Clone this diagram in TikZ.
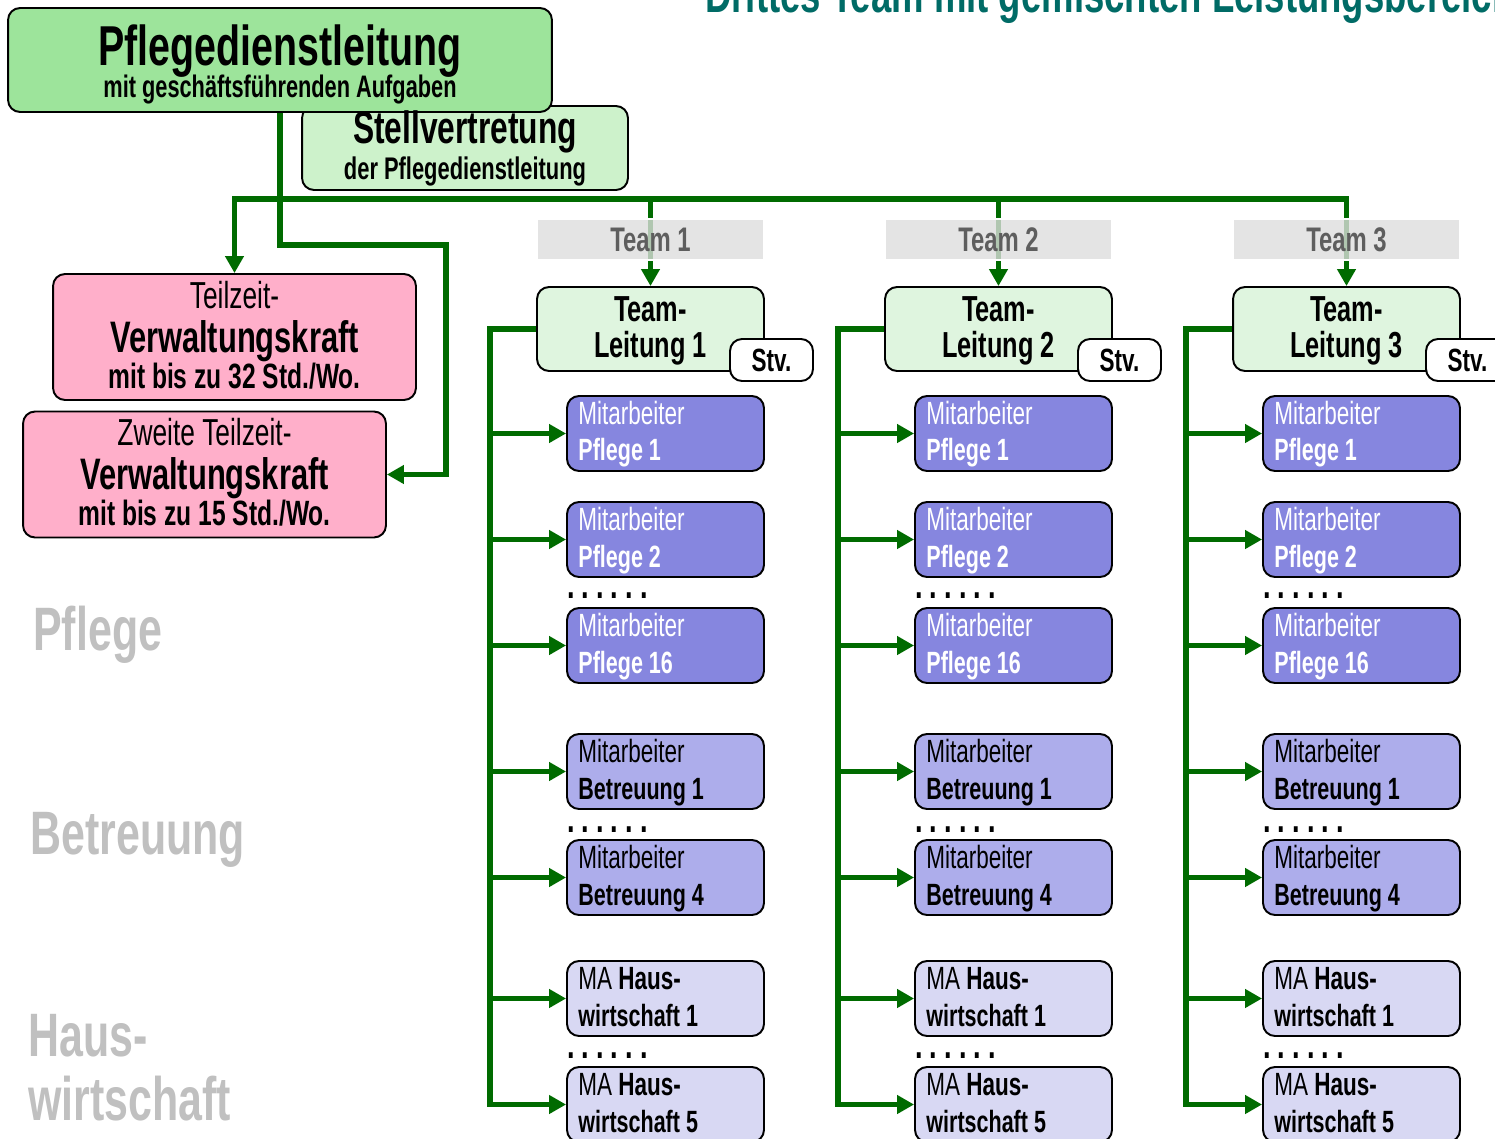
\documentclass[tikz,border=0pt]{standalone}
\usepackage{fontspec}
\setmainfont{Liberation Sans}[FakeStretch=0.7]
\usetikzlibrary{arrows.meta}
\definecolor{PdlGreen}{HTML}{9DE49B}
\definecolor{StellGreen}{HTML}{CDF2CB}
\definecolor{LeadGreen}{HTML}{DFF5DF}
\definecolor{VerwPink}{HTML}{FFAFCA}
\definecolor{PflegeBlue}{HTML}{8686DF}
\definecolor{BetrBlue}{HTML}{ADADEB}
\definecolor{HausBlue}{HTML}{D8D8F3}
\definecolor{LinkGreen}{HTML}{006B00}
\definecolor{SideGray}{HTML}{C0C0C0}
\definecolor{LabelGray}{HTML}{DDDDDD}
\definecolor{LabelText}{HTML}{5E5E5E}
\definecolor{TitleTeal}{HTML}{006B66}
\tikzset{
    box/.style={rectangle, draw, line width=1.1pt, rounded corners=0.24cm, inner sep=0},
    pdlbox/.style={box, fill=PdlGreen, minimum width=10.88cm, minimum height=2.08cm},
    stellbox/.style={box, fill=StellGreen, minimum width=6.52cm, minimum height=1.68cm},
    verwbox/.style={box, fill=VerwPink, minimum width=7.26cm, minimum height=2.52cm},
    leadbox/.style={box, fill=LeadGreen, minimum width=4.54cm, minimum height=1.68cm},
    stvbox/.style={box, fill=white, minimum width=1.66cm, minimum height=0.84cm,
                font=\fontsize{18.3}{20}\selectfont\bfseries},
    pflegebox/.style={box, fill=PflegeBlue, minimum width=3.94cm, minimum height=1.5cm},
    betrbox/.style={box, fill=BetrBlue, minimum width=3.94cm, minimum height=1.5cm},
    hausbox/.style={box, fill=HausBlue, minimum width=3.94cm, minimum height=1.5cm},
    teambox/.style={rectangle, draw=white, line width=1.2pt, fill=LabelGray,
                fill opacity=0.8, text opacity=1, text=LabelText, inner sep=0,
                minimum width=4.54cm, minimum height=0.82cm,
                font=\fontsize{19.4}{21}\selectfont\bfseries},
    link/.style={draw=LinkGreen, line width=3pt},
    arrow/.style={link, -{Triangle[length=0.34cm, width=0.36cm]}},
    %
    pdltopstyle/.style={anchor=base, inner sep=0, yshift=-.1cm, font=\fontsize{32}{34}\selectfont\bfseries},
    pdllowstyle/.style={anchor=base, inner sep=0, yshift=-.75cm, font=\fontsize{17.7}{19}\selectfont\bfseries},
    stelltopstyle/.style={anchor=base, inner sep=0, yshift=.1cm, font=\fontsize{25.8}{28}\selectfont\bfseries},
    stelllowstyle/.style={anchor=base, inner sep=0, yshift=-.64cm, font=\fontsize{17.8}{19}\selectfont\bfseries},
    %
    verwtopstyle/.style={anchor=base, inner sep=0, yshift=.58cm, font=\fontsize{21.4}{23}\selectfont},
    verwmidstyle/.style={anchor=base, inner sep=0, yshift=-.3cm, font=\fontsize{25.1}{27}\selectfont\bfseries},
    verwlowstyle/.style={anchor=base, inner sep=0, yshift=-1.03cm, font=\fontsize{20}{22}\selectfont\bfseries},
    %
    leadupperstyle/.style={anchor=base, inner sep=0, yshift=.146cm, font=\fontsize{20.6}{22}\selectfont\bfseries},
    leadlowerstyle/.style={anchor=base, inner sep=0, yshift=-.58cm, font=\fontsize{20.6}{22}\selectfont\bfseries},
    upperstyle/.style={anchor=base west, inner sep=0, xshift=.24cm, yshift=.18cm, font=\fontsize{18.3}{20}\selectfont},
    lowerstyle/.style={anchor=base west, inner sep=0, xshift=.24cm, yshift=-.55cm, font=\fontsize{17.5}{19}\selectfont\bfseries},
    dotstyle/.style={anchor=base west, inner sep=0, text height=4pt, text depth=0pt,
                font=\fontsize{22}{24}\selectfont\bfseries},
    sidestyle/.style={anchor=base west, inner sep=0, text=SideGray, font=\fontsize{34.9}{38}\selectfont\bfseries},
    titlestyle/.style={anchor=base west, inner sep=0, text=TitleTeal, font=\fontsize{29.7}{32}\selectfont\bfseries},
}
\newcommand{\verwLayer}[4]{%
    \node[verwtopstyle] (#1-t) at (#1.center) {#2};
    \node[verwmidstyle] (#1-m) at (#1.center) {#3};
    \node[verwlowstyle] (#1-b) at (#1.center) {#4};
}
\newcommand{\leadLayer}[2]{%
    \node[leadupperstyle] (#1-u) at (#1.center) {Team-};
    \node[leadlowerstyle] (#1-l) at (#1.center) {#2};
}
\newcommand{\workerLayer}[4][black]{%
    \node[upperstyle, text=#1] (#2-u) at (#2.west) {#3};
    \node[lowerstyle, text=#1] (#2-l) at (#2.west) {#4};
}
\newcommand{\dotRow}{.\kern4pt.\kern4pt.\kern4pt.\kern4pt.\kern4pt.}

\begin{document}
\begin{tikzpicture}[x=0.02cm, y=-0.02cm]
        \useasboundingbox (0,0) rectangle (1495,1139);
        \clip (0,0) rectangle (1495,1139);
        %
        % Head
        \node[titlestyle] (title) at (705,12.7) {Drittes Team mit gemischten Leistungsbereichen};
        \node[stellbox] (STELL) at (465,148) {};
        \node[pdlbox] (PDL) at (280,60) {};
        \node[pdltopstyle] (PDL-t) at (PDL.center) {Pflegedienstleitung};
        \node[pdllowstyle] (PDL-b) at (PDL.center) {mit geschäftsführenden Aufgaben};
        \node[stelltopstyle] (STELL-t) at (STELL.center) {Stellvertretung};
        \node[stelllowstyle] (STELL-b) at (STELL.center) {der Pflegedienstleitung};
        %
        \node[verwbox] (TZ) at (234.5,337) {};
        \verwLayer{TZ}{Teilzeit-}{Verwaltungskraft}{mit bis zu 32 Std./Wo.}
        \node[verwbox] (ZT) at (204.5,474.5) {};
        \verwLayer{ZT}{Zweite Teilzeit-}{Verwaltungskraft}{mit bis zu 15 Std./Wo.}
        %
        % Side labels
        \node[sidestyle] (sidePflege) at (33,650) {Pflege};
        \node[sidestyle] (sideBetr) at (30,854) {Betreuung};
        \node[sidestyle] (sideHaus) at (28,1056) {Haus-};
        \node[sidestyle] (sideWirt) at (28,1120) {wirtschaft};
        %
        %
        % Team 1
        \node[leadbox] (TL1) at (650.5,329) {};
        \leadLayer{TL1}{Leitung 1}
        \node[stvbox] (Stv1) at (771.5,360) {Stv.};
        \node[pflegebox] (P1c1) at (665.5,433.5) {};
        \workerLayer[white]{P1c1}{Mitarbeiter}{Pflege 1}
        \node[pflegebox] (P2c1) at (665.5,539.5) {};
        \workerLayer[white]{P2c1}{Mitarbeiter}{Pflege 2}
        \node[dotstyle] (D1c1) at (567,598) {\dotRow};
        \node[pflegebox] (P16c1) at (665.5,645.5) {};
        \workerLayer[white]{P16c1}{Mitarbeiter}{Pflege 16}
        \node[betrbox] (B1c1) at (665.5,771.5) {};
        \workerLayer{B1c1}{Mitarbeiter}{Betreuung 1}
        \node[dotstyle] (D2c1) at (567,832) {\dotRow};
        \node[betrbox] (B4c1) at (665.5,877.5) {};
        \workerLayer{B4c1}{Mitarbeiter}{Betreuung 4}
        \node[hausbox] (H1c1) at (665.5,998.5) {};
        \workerLayer{H1c1}{MA \textbf{Haus-}}{wirtschaft 1}
        \node[dotstyle] (D3c1) at (567,1058) {\dotRow};
        \node[hausbox] (H5c1) at (665.5,1104.5) {};
        \workerLayer{H5c1}{MA \textbf{Haus-}}{wirtschaft 5}
        %
        %
        % Team 2
        \node[leadbox] (TL2) at (998.5,329) {};
        \leadLayer{TL2}{Leitung 2}
        \node[stvbox] (Stv2) at (1119.5,360) {Stv.};
        \node[pflegebox] (P1c2) at (1013.5,433.5) {};
        \workerLayer[white]{P1c2}{Mitarbeiter}{Pflege 1}
        \node[pflegebox] (P2c2) at (1013.5,539.5) {};
        \workerLayer[white]{P2c2}{Mitarbeiter}{Pflege 2}
        \node[dotstyle] (D1c2) at (915,598) {\dotRow};
        \node[pflegebox] (P16c2) at (1013.5,645.5) {};
        \workerLayer[white]{P16c2}{Mitarbeiter}{Pflege 16}
        \node[betrbox] (B1c2) at (1013.5,771.5) {};
        \workerLayer{B1c2}{Mitarbeiter}{Betreuung 1}
        \node[dotstyle] (D2c2) at (915,832) {\dotRow};
        \node[betrbox] (B4c2) at (1013.5,877.5) {};
        \workerLayer{B4c2}{Mitarbeiter}{Betreuung 4}
        \node[hausbox] (H1c2) at (1013.5,998.5) {};
        \workerLayer{H1c2}{MA \textbf{Haus-}}{wirtschaft 1}
        \node[dotstyle] (D3c2) at (915,1058) {\dotRow};
        \node[hausbox] (H5c2) at (1013.5,1104.5) {};
        \workerLayer{H5c2}{MA \textbf{Haus-}}{wirtschaft 5}
        %
        %
        % Team 3
        \node[leadbox] (TL3) at (1346.5,329) {};
        \leadLayer{TL3}{Leitung 3}
        \node[stvbox] (Stv3) at (1467.5,360) {Stv.};
        \node[pflegebox] (P1c3) at (1361.5,433.5) {};
        \workerLayer[white]{P1c3}{Mitarbeiter}{Pflege 1}
        \node[pflegebox] (P2c3) at (1361.5,539.5) {};
        \workerLayer[white]{P2c3}{Mitarbeiter}{Pflege 2}
        \node[dotstyle] (D1c3) at (1263,598) {\dotRow};
        \node[pflegebox] (P16c3) at (1361.5,645.5) {};
        \workerLayer[white]{P16c3}{Mitarbeiter}{Pflege 16}
        \node[betrbox] (B1c3) at (1361.5,771.5) {};
        \workerLayer{B1c3}{Mitarbeiter}{Betreuung 1}
        \node[dotstyle] (D2c3) at (1263,832) {\dotRow};
        \node[betrbox] (B4c3) at (1361.5,877.5) {};
        \workerLayer{B4c3}{Mitarbeiter}{Betreuung 4}
        \node[hausbox] (H1c3) at (1361.5,998.5) {};
        \workerLayer{H1c3}{MA \textbf{Haus-}}{wirtschaft 1}
        \node[dotstyle] (D3c3) at (1263,1058) {\dotRow};
        \node[hausbox] (H5c3) at (1361.5,1104.5) {};
        \workerLayer{H5c3}{MA \textbf{Haus-}}{wirtschaft 5}
        %
        %
        % Links
        \coordinate (hbus) at (280,199);
        \coordinate (pdlknee) at (446,245);
        \draw[arrow] (PDL.south) |- (pdlknee) |- (ZT.east);
        \draw[arrow] (hbus) -| (TZ.north);
        \draw[arrow] (hbus) -| (TL1.north);
        \draw[arrow] (hbus) -| (TL2.north);
        \draw[arrow] (hbus) -| (TL3.north);
        %
        \coordinate (bus1) at (490,0);
        \draw[arrow] (TL1.west) -| (bus1 |- H5c1.west) -- (H5c1.west);
        \draw[arrow] (bus1 |- P1c1.west) -- (P1c1.west);
        \draw[arrow] (bus1 |- P2c1.west) -- (P2c1.west);
        \draw[arrow] (bus1 |- P16c1.west) -- (P16c1.west);
        \draw[arrow] (bus1 |- B1c1.west) -- (B1c1.west);
        \draw[arrow] (bus1 |- B4c1.west) -- (B4c1.west);
        \draw[arrow] (bus1 |- H1c1.west) -- (H1c1.west);
        %
        \coordinate (bus2) at (838,0);
        \draw[arrow] (TL2.west) -| (bus2 |- H5c2.west) -- (H5c2.west);
        \draw[arrow] (bus2 |- P1c2.west) -- (P1c2.west);
        \draw[arrow] (bus2 |- P2c2.west) -- (P2c2.west);
        \draw[arrow] (bus2 |- P16c2.west) -- (P16c2.west);
        \draw[arrow] (bus2 |- B1c2.west) -- (B1c2.west);
        \draw[arrow] (bus2 |- B4c2.west) -- (B4c2.west);
        \draw[arrow] (bus2 |- H1c2.west) -- (H1c2.west);
        %
        \coordinate (bus3) at (1186,0);
        \draw[arrow] (TL3.west) -| (bus3 |- H5c3.west) -- (H5c3.west);
        \draw[arrow] (bus3 |- P1c3.west) -- (P1c3.west);
        \draw[arrow] (bus3 |- P2c3.west) -- (P2c3.west);
        \draw[arrow] (bus3 |- P16c3.west) -- (P16c3.west);
        \draw[arrow] (bus3 |- B1c3.west) -- (B1c3.west);
        \draw[arrow] (bus3 |- B4c3.west) -- (B4c3.west);
        \draw[arrow] (bus3 |- H1c3.west) -- (H1c3.west);
        %
        % Team labels
        \node[teambox] (T1) at (650.5,239.5) {Team 1};
        \node[teambox] (T2) at (998.5,239.5) {Team 2};
        \node[teambox] (T3) at (1346.5,239.5) {Team 3};
\end{tikzpicture}
\end{document}
